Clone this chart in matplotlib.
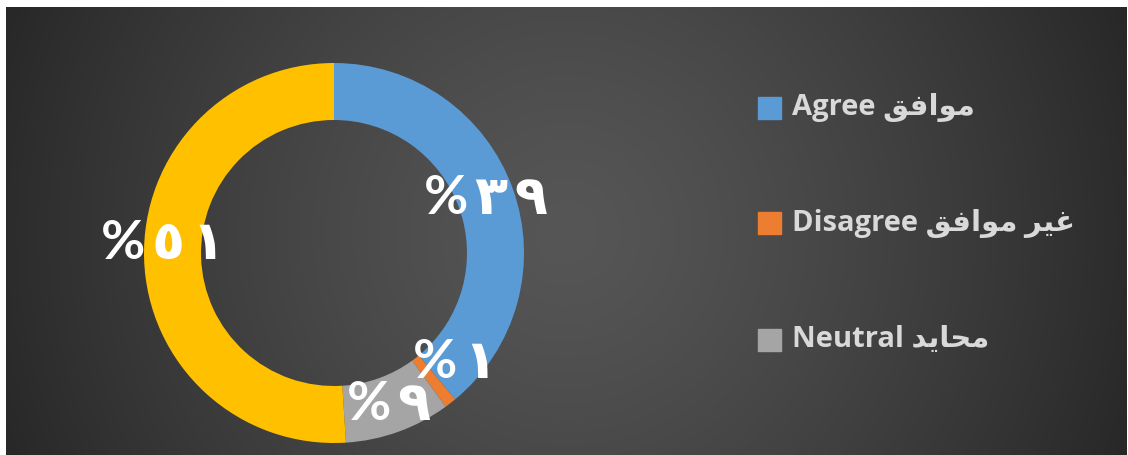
import numpy as np
import matplotlib.pyplot as plt

# data
values = [39, 1, 9, 51]
colors = ['#5b9bd5', '#ed7d31', '#a5a5a5', '#ffc000']
# legend names, Arabic part written in shaped presentation forms (visual order)
legend_names = ['Agree \uFED6\uFED3\uFE8D\uFEEE\uFEE3',
                'Disagree \uFED6\uFED3\uFE8D\uFEEE\uFEE3 \uFEAE\uFEF4\uFECF',
                'Neutral \uFEAA\uFEF3\uFE8E\uFEA4\uFEE3']
arabic_digits = '\u0660\u0661\u0662\u0663\u0664\u0665\u0666\u0667\u0668\u0669'

W, H = 1128, 455
fig = plt.figure(figsize=(W/100, H/100), dpi=100)
fig.patch.set_facecolor('white')

# dark radial background
bg = fig.add_axes([6/W, 0, (W-7)/W, (H-7)/H])
bg.set_axis_off()
yy, xx = np.mgrid[0:H-7, 0:W-7]
d = np.sqrt((xx-560)**2 + (yy-225)**2) / 620
d = np.clip(d, 0, 1)
shade = 0x56 - (0x56-0x26)*d**1.3
bg.imshow(np.dstack([shade, shade, shade])/255, aspect='auto', extent=[0, 1, 0, 1])
bg.set_xlim(0, 1)
bg.set_ylim(0, 1)

# donut
cx, cy, R = 334, 253, 190
ax = fig.add_axes([(cx-R)/W, (H-cy-R)/H, 2*R/W, 2*R/H])
wedges, _ = ax.pie(values, colors=colors, startangle=90, counterclock=False,
                   radius=1, wedgeprops=dict(width=0.3, linewidth=0))
ax.set_xlim(-1, 1)
ax.set_ylim(-1, 1)
ax.set_aspect('auto')
ax.set_axis_off()

def to_ar(n):
    return '\u2009'.join(arabic_digits[int(c)] for c in str(n))

shift = [0, 10, 0, -5]
dist = [0.85, 0.86, 0.85, 0.9]
for w, v, s, r in zip(wedges, values, shift, dist):
    t = np.radians((w.theta1 + w.theta2) / 2 + s)
    ax.text(r*np.cos(t), r*np.sin(t), '%\u2009' + to_ar(v), color='white',
            fontsize=39, fontweight='bold', family=['Lato', 'DejaVu Sans'],
            ha='center', va='center')

# legend
ly = [108, 223, 340]
for name, c, y in zip(legend_names, colors, ly):
    fig.patches.append(plt.Rectangle((758/W, (H-y-11)/H), 23/W, 22/H,
                                     transform=fig.transFigure, color=c))
    fig.text(792/W, (H-y)/H, name, color='#d9d9d9', fontsize=21,
             fontweight='bold', family=['Open Sans', 'DejaVu Sans'], va='center')

fig.savefig('out.png', dpi=100, facecolor='white')
